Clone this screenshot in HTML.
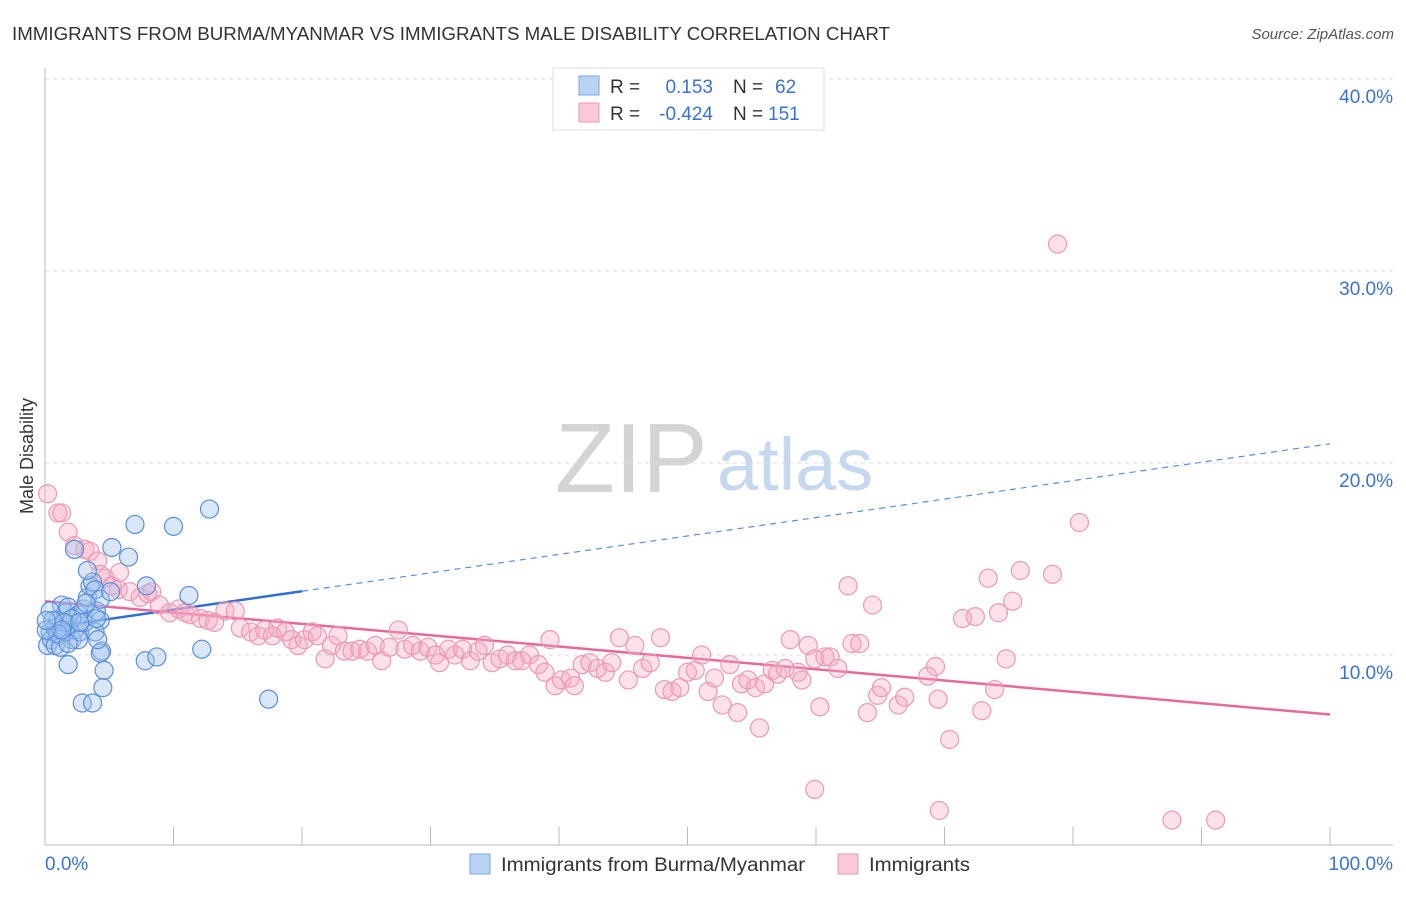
<!DOCTYPE html>
<html><head><meta charset="utf-8"><style>
body{margin:0;background:#fff;font-family:"Liberation Sans",sans-serif}
svg text{font-family:"Liberation Sans",sans-serif}
</style></head><body>
<svg id="chart" width="1406" height="892" xmlns="http://www.w3.org/2000/svg">
<text x="12" y="40" font-size="18" fill="#333" textLength="878" lengthAdjust="spacingAndGlyphs">IMMIGRANTS FROM BURMA/MYANMAR VS IMMIGRANTS MALE DISABILITY CORRELATION CHART</text>
<text x="1394" y="39" font-size="15" font-style="italic" fill="#555" text-anchor="end">Source: ZipAtlas.com</text>
<g>
<text x="555" y="492" font-size="98" font-family="Liberation Serif,serif" fill="#d4d4d4">ZIP</text>
<text x="717" y="490" font-size="74" fill="#c6d8ef">atlas</text>
</g>
<g id="grid"></g>
<g id="axes"></g>
<g id="trend"></g>
<g id="points"></g>
<text transform="translate(33,456) rotate(-90)" font-size="18" fill="#333" text-anchor="middle">Male Disability</text>
<g>
<rect x="553" y="68" width="271" height="62" fill="#fff" stroke="#ddd"/>
<rect x="579" y="76" width="20" height="19" fill="#b9d3f5" stroke="#7aa6e6"/>
<rect x="579" y="103" width="20" height="19" fill="#fbc9d8" stroke="#ea9ab4"/>
<text x="610" y="93" font-size="19" fill="#333">R =</text>
<text x="713" y="93" font-size="19" fill="#3b72d0" text-anchor="end">0.153</text>
<text x="733" y="93" font-size="19" fill="#333">N =</text>
<text x="775" y="93" font-size="19" fill="#3b72d0">62</text>
<text x="610" y="120" font-size="19" fill="#333">R =</text>
<text x="713" y="120" font-size="19" fill="#3b72d0" text-anchor="end">-0.424</text>
<text x="733" y="120" font-size="19" fill="#333">N =</text>
<text x="768" y="120" font-size="19" fill="#3b72d0">151</text>
</g>
<g>
<rect x="470" y="854" width="20" height="20" fill="#b9d3f5" stroke="#7aa6e6"/>
<text x="501" y="871" font-size="19" fill="#333" textLength="304" lengthAdjust="spacingAndGlyphs">Immigrants from Burma/Myanmar</text>
<rect x="838" y="854" width="20" height="20" fill="#fbc9d8" stroke="#ea9ab4"/>
<text x="869" y="871" font-size="19" fill="#333" textLength="101" lengthAdjust="spacingAndGlyphs">Immigrants</text>
</g>
</svg>
<script>
const blueX=[0.2,0.4,0.5,0.8,1.0,1.2,1.3,1.6,1.8,1.9,2.1,2.3,2.6,2.7,3.0,3.1,3.3,3.5,3.7,3.9,4.0,4.3,4.4,4.6,4.5,5.2,6.5,7.0,7.9,10.0,11.2,12.8,12.2,7.8,8.7,3.3,2.3,2.9,3.7,17.4,1.8,4.3,0.4,0.8,1.2,1.6,2.6,3.9,4.3,5.1,2.1,3.2,1.5,0.6,1.0,4.0,1.8,2.7,1.3,4.1,0.1,0.1];
const blueY=[10.5,11.2,10.8,11.4,11.8,11.0,12.6,12.2,12.5,11.6,10.8,11.3,12.1,11.2,12.4,11.7,13.0,13.6,13.8,13.4,12.3,11.8,10.2,9.2,8.3,15.6,15.1,16.8,13.6,16.7,13.1,17.6,10.3,9.7,9.9,14.4,15.5,7.5,7.5,7.7,9.5,10.1,12.3,10.5,10.4,11.2,10.8,11.2,12.9,13.3,11.9,12.7,11.7,11.8,11.1,11.9,10.6,11.7,11.3,10.8,11.3,11.8];
const pinkX=[0.2,1.0,1.3,1.8,2.3,3.1,3.5,4.1,4.3,4.7,5.2,5.8,5.7,6.6,7.4,8.0,8.3,8.9,9.7,10.4,10.9,11.3,12.1,12.7,13.2,14.0,14.8,15.2,16.0,16.6,17.1,17.7,18.1,18.7,19.2,19.7,20.2,20.8,21.2,21.8,22.3,22.8,23.3,23.9,24.5,25.1,25.7,26.2,26.8,27.5,28.0,28.6,29.2,29.8,30.4,30.7,31.4,31.9,32.5,33.1,33.7,34.2,34.8,35.4,36.0,36.6,37.1,37.7,38.4,38.9,39.3,39.7,40.2,40.9,41.2,41.8,42.4,43.0,43.6,44.1,44.7,45.4,45.9,46.5,47.1,47.9,48.2,48.8,49.4,50.0,50.6,51.1,51.6,52.1,52.7,53.3,53.9,54.2,54.7,55.3,55.6,56.0,56.6,57.0,57.6,58.0,58.6,58.9,59.4,59.9,60.3,60.7,61.1,61.7,62.5,62.8,63.4,64.0,64.4,64.8,65.1,66.4,66.9,68.7,69.3,69.5,70.4,71.4,72.4,72.9,73.4,73.9,74.2,74.8,75.3,75.9,78.4,78.8,80.5,59.9,69.6,87.7,91.1];
const pinkY=[18.4,17.4,17.4,16.4,15.7,15.5,15.4,14.9,14.2,14.0,13.6,14.3,13.4,13.3,13.0,13.2,13.3,12.6,12.2,12.4,12.2,12.1,11.9,11.8,11.7,12.3,12.3,11.4,11.2,11.0,11.3,11.0,11.4,11.2,10.8,10.5,10.8,11.2,11.0,9.8,10.5,11.0,10.2,10.2,10.3,10.2,10.5,9.7,10.4,11.3,10.3,10.5,10.2,10.4,10.0,9.6,10.3,10.0,10.3,9.7,10.2,10.5,9.6,9.8,10.0,9.7,9.7,10.0,9.5,9.1,10.8,8.4,8.7,8.8,8.4,9.5,9.6,9.3,9.1,9.6,10.9,8.7,10.5,9.3,9.6,10.9,8.2,8.1,8.3,9.1,9.2,10.0,8.1,8.8,7.4,9.5,7.0,8.5,8.7,8.3,6.2,8.5,9.2,9.0,9.3,10.8,9.1,8.7,10.5,9.8,7.3,9.9,9.9,9.3,13.6,10.6,10.6,7.0,12.6,7.9,8.3,7.4,7.8,8.9,9.4,7.7,5.6,11.9,12.0,7.1,14.0,8.2,12.2,9.8,12.8,14.4,14.2,31.4,16.9,3.0,1.9,1.4,1.4];
const blueTrendY=[11.4,21.0];
const pinkTrendY=[12.8,6.9];
const yTicks=[10,20,30,40];
const yTickLabels=["10.0%","20.0%","30.0%","40.0%"];
const xTicks=[0,10,20,30,40,50,60,70,80,90,100];
const NS="http://www.w3.org/2000/svg";
function sx(v){return 45+v*12.85;}
function sy(v){return 847-v*19.2;}
function mk(tag,attrs,parent){const e=document.createElementNS(NS,tag);for(const k in attrs)e.setAttribute(k,attrs[k]);parent.appendChild(e);return e;}
const grid=document.getElementById('grid'),axes=document.getElementById('axes'),trend=document.getElementById('trend'),pts=document.getElementById('points');
yTicks.forEach((t,i)=>{
 const l=mk('line',{x1:45,x2:1393,y1:sy(t),y2:sy(t),stroke:'#ddd','stroke-dasharray':'4,4'},grid);
 
 
 const tx=mk('text',{x:1393,y:sy(t)+24,'font-size':19,fill:'#3b72d0','text-anchor':'end'},axes);
 tx.textContent=yTickLabels[i];
 
 
});
mk('line',{x1:45,x2:45,y1:68,y2:845,stroke:'#bbb'},axes);
mk('line',{x1:45,x2:1393,y1:845,y2:845,stroke:'#bbb'},axes);
xTicks.forEach(t=>{
 const l=mk('line',{x1:sx(t),x2:sx(t),y1:827,y2:845,stroke:'#bbb'},axes);
 
 
});
const x0=mk('text',{x:45,y:870,'font-size':19,fill:'#3b72d0'},axes);x0.textContent='0.0%';


const x1=mk('text',{x:1393,y:870,'font-size':19,fill:'#3b72d0','text-anchor':'end'},axes);x1.textContent='100.0%';


pinkX.forEach((x,i)=>{
 const c=mk('circle',{cx:sx(x),cy:sy(pinkY[i]),r:9,fill:'rgba(246,168,194,0.35)',stroke:'#eb9ab4','stroke-width':1.2},pts);
 
 
});
blueX.forEach((x,i)=>{
 const c=mk('circle',{cx:sx(x),cy:sy(blueY[i]),r:9,fill:'rgba(160,195,240,0.4)',stroke:'#5a8edb','stroke-width':1.2},pts);
 
 
});
const bAt=x=>blueTrendY[0]+(blueTrendY[1]-blueTrendY[0])*x/100;
const bs=mk('line',{x1:sx(0),y1:sy(bAt(0)),x2:sx(20),y2:sy(bAt(20)),stroke:'#2f6fd6','stroke-width':2.5},trend);


const bd=mk('line',{x1:sx(20),y1:sy(bAt(20)),x2:sx(100),y2:sy(bAt(100)),stroke:'#5a8edb','stroke-width':1.2,'stroke-dasharray':'6,5'},trend);


const pl=mk('line',{x1:sx(0),y1:sy(pinkTrendY[0]),x2:sx(100),y2:sy(pinkTrendY[1]),stroke:'#e9689a','stroke-width':2.5},trend);


</script>
</body></html>
